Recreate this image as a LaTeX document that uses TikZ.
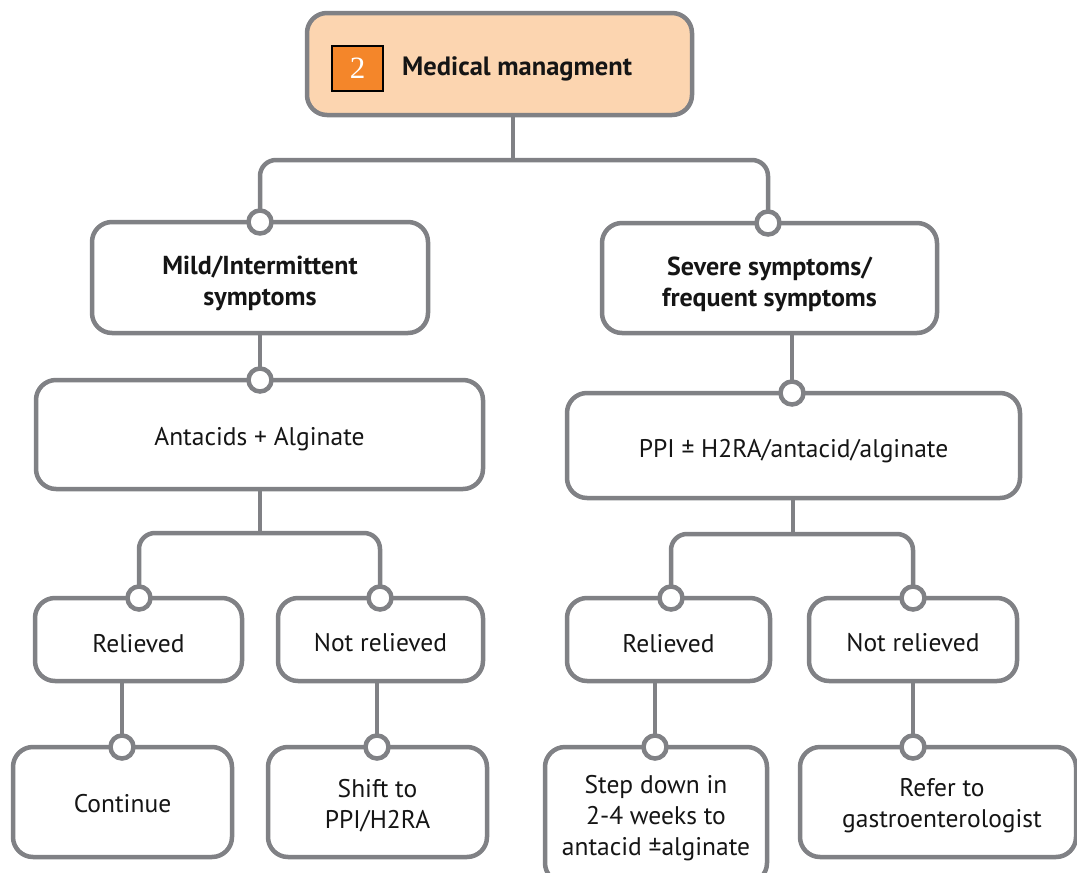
\documentclass[tikz,border=0pt]{standalone}
\usepackage{fontspec}
\setmainfont{PT Sans}
\newfontfamily\numfont{Liberation Serif}
\definecolor{linegray}{HTML}{808185}
\definecolor{peach}{HTML}{FCD5B0}
\definecolor{tagorange}{HTML}{F4862A}
\definecolor{ink}{HTML}{151515}
\begin{document}
\begin{tikzpicture}[x=1pt,y=-1pt,
  box/.style={draw=linegray, line width=4.5pt, rounded corners=20pt, fill=white,
    inner sep=0pt},
  txt/.style={inner sep=0pt, align=center, text=ink, font=\fontsize{25.5}{31}\selectfont},
  htxt/.style={txt, font=\bfseries\fontsize{26}{31}\selectfont},
  link/.style={draw=linegray, line width=4.5pt},
  branch/.style={link, rounded corners=16pt},
  port/.style={circle, draw=linegray, line width=4.5pt, fill=white,
    minimum size=23pt, inner sep=0pt},
  tag/.style={draw=black, line width=1.5pt, fill=tagorange, text=white,
    minimum width=51pt, minimum height=45pt, inner sep=0pt,
    font=\numfont\fontsize{31}{31}\selectfont},
  title/.style={anchor=west, inner sep=0pt, text=ink,
    font=\bfseries\fontsize{26.5}{31}\selectfont}]
\useasboundingbox (0,0) rectangle (1077,873);

% header
\node[box, fill=peach, minimum width=385pt, minimum height=102pt] (top) at (499.5,64) {};
\node[tag] (num) at (357.5,68.5) {2};
\node[title] (ttl) at (402,69) {Medical managment};

% first level
\node[box, minimum width=336pt, minimum height=111pt] (mild) at (260,277.5) {};
\node[box, minimum width=335pt, minimum height=110pt] (sev) at (769.5,278) {};
\node[htxt, yshift=-6pt] (mildT) at (mild) {Mild/Intermittent\\symptoms};
\node[htxt, yshift=-6pt] (sevT) at (sev) {Severe symptoms/\\frequent symptoms};

% treatment
\node[box, minimum width=447pt, minimum height=109pt] (ant) at (259.5,434.5) {};
\node[box, minimum width=453pt, minimum height=105pt] (ppi) at (793.5,445.5) {};
\node[txt, yshift=-5pt] (antT) at (ant) {Antacids + Alginate};
\node[txt, yshift=-6pt] (ppiT) at (ppi) {PPI ± H2RA/antacid/alginate};

% outcome
\node[box, minimum width=207pt, minimum height=83pt] (relL) at (138.5,639.5) {};
\node[box, minimum width=205pt, minimum height=83pt] (nrelL) at (380.5,639.5) {};
\node[box, minimum width=203pt, minimum height=83pt] (relR) at (668.5,639.5) {};
\node[box, minimum width=208pt, minimum height=83pt] (nrelR) at (913,639.5) {};
\node[txt, yshift=-4pt] (relLT) at (relL) {Relieved};
\node[txt, yshift=-3pt] (nrelLT) at (nrelL) {Not relieved};
\node[txt, yshift=-4pt] (relRT) at (relR) {Relieved};
\node[txt, yshift=-3pt] (nrelRT) at (nrelR) {Not relieved};

% actions
\node[box, minimum width=219pt, minimum height=110pt] (cont) at (122.5,802) {};
\node[box, minimum width=219pt, minimum height=110pt] (shift) at (377.5,802) {};
\node[box, minimum width=222pt, minimum height=136pt] (step) at (656,815) {};
\node[box, minimum width=276pt, minimum height=110pt] (ref) at (938,802) {};
\node[txt, yshift=-2pt] (contT) at (cont) {Continue};
\node[txt, yshift=-4pt] (shiftT) at (shift) {Shift to\\PPI/H2RA};
\node[txt, yshift=-3pt] (stepT) at (step) {Step down in\\2-4 weeks to\\antacid ±alginate};
\node[txt, yshift=-4pt, xshift=4pt] (refT) at (ref) {Refer to\\gastroenterologist};

% junctions of the branching lines
\coordinate (j1) at (513,160);
\coordinate (j2) at (260,533);
\coordinate (j3) at (793,534);

% ports on the top edges
\path (260,222) coordinate (pMild) (768,223) coordinate (pSev)
      (260,380) coordinate (pAnt) (792,393) coordinate (pPpi)
      (139,598) coordinate (pRelL) (380,598) coordinate (pNrelL)
      (671,598) coordinate (pRelR) (913,598) coordinate (pNrelR)
      (122,747) coordinate (pCont) (377,747) coordinate (pShift)
      (655,747) coordinate (pStep) (913,747) coordinate (pRef);

% connectors
\draw[link] (j1 |- top.south) -- (j1);
\draw[branch] (pMild) |- (j1) -| (pSev);
\draw[link] (pAnt |- mild.south) -- (pAnt);
\draw[link] (pPpi |- sev.south) -- (pPpi);
\draw[link] (j2 |- ant.south) -- (j2);
\draw[branch] (pRelL) |- (j2) -| (pNrelL);
\draw[link] (j3 |- ppi.south) -- (j3);
\draw[branch] (pRelR) |- (j3) -| (pNrelR);
\draw[link] (pCont |- relL.south) -- (pCont);
\draw[link] (pShift |- nrelL.south) -- (pShift);
\draw[link] (pStep |- relR.south) -- (pStep);
\draw[link] (pRef |- nrelR.south) -- (pRef);

% port circles
\foreach \p in {pMild,pSev,pAnt,pPpi,pRelL,pNrelL,pRelR,pNrelR,pCont,pShift,pStep,pRef}
  \node[port] (\p c) at (\p) {};
\end{tikzpicture}
\end{document}
